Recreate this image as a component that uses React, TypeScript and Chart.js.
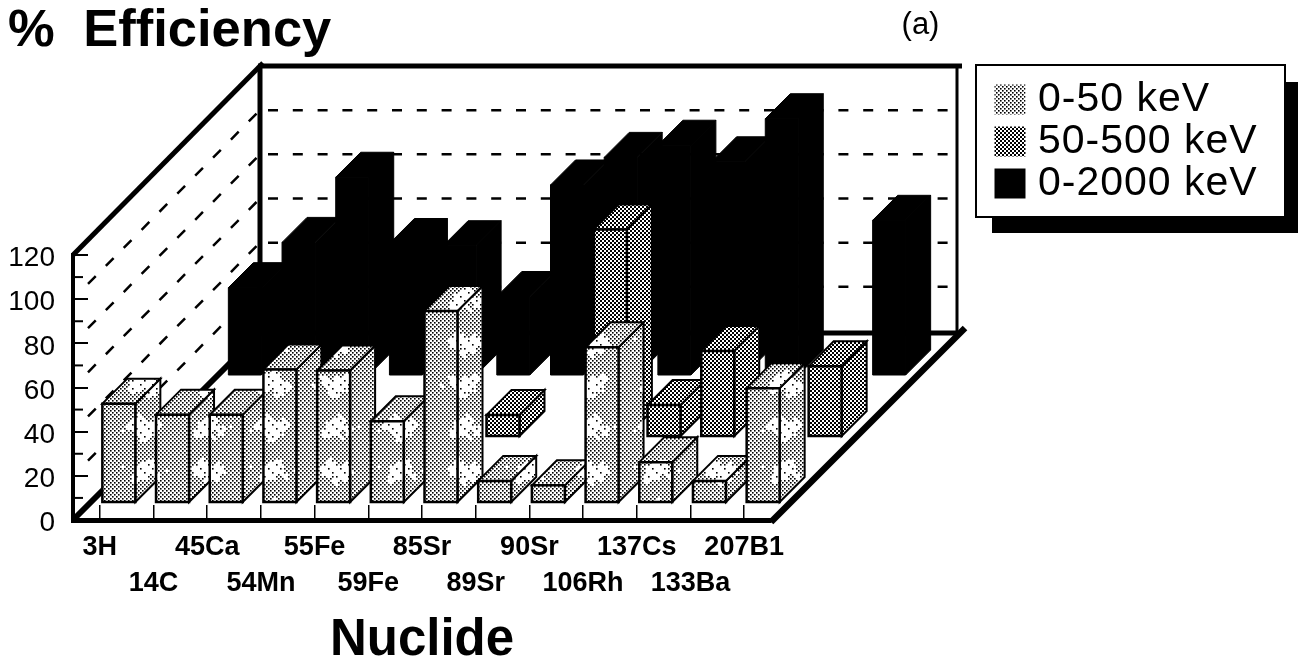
import React, { useEffect, useRef } from "react";
import { Chart, registerables } from "chart.js";

Chart.register(...registerables);

const nuclides = ["3H", "14C", "45Ca", "54Mn", "55Fe", "59Fe", "85Sr", "89Sr", "90Sr", "106Rh", "137Cs", "133Ba", "207B1"];
const lowEnergy = [45, 40, 40, 60.5, 60, 37, 87, 10, 8, 70.5, 18.5, 10, 52];
const midEnergy = [null, null, null, null, null, null, 10, null, 94, 14.5, 39, null, 32];
const fullEnergy = [40, 60.5, 90, 60, 59, 36, 86.5, 99, 104.5, 97, 116.5, null, 70.5];
const seriesNames = ["0-50 keV", "50-500 keV", "0-2000 keV"];
const yTicks = [0, 20, 40, 60, 80, 100, 120];

const FONT = "'Liberation Sans', Arial, sans-serif";
const layerOffsets = [
  { dx: 19, dy: -17 },
  { dx: 81, dy: -83 },
  { dx: 145, dy: -144 },
];
const BOX_DEPTH = 25;
const WALL_DX = 187;
const WALL_DY = -189;

function makePattern(ctx: CanvasRenderingContext2D, dot: number, blotchy: boolean) {
  const size = 128;
  const c = document.createElement("canvas");
  c.width = size;
  c.height = size;
  const g = c.getContext("2d")!;
  g.fillStyle = "#fff";
  g.fillRect(0, 0, size, size);
  g.fillStyle = "#000";
  for (let y = 0; y < size; y += 2) {
    for (let x = y % 4 === 0 ? 0 : 2; x < size; x += 4) {
      if (blotchy) {
        const a = (x / size) * Math.PI * 2;
        const b = (y / size) * Math.PI * 2;
        const v = Math.sin(2 * a) + Math.cos(3 * b) + 0.5 * Math.sin(5 * a + 4 * b) + 0.3 * Math.cos(9 * a - 7 * b);
        if (v > 1 && (x + 2 * y) % 12 !== 0) continue;
      }
      g.fillRect(x, y, dot, dot);
    }
  }
  return ctx.createPattern(c, "repeat")!;
}

function polygon(ctx: CanvasRenderingContext2D, pts: number[][], fill: any, stroke: any, lw: number) {
  ctx.beginPath();
  pts.forEach((p, i) => (i ? ctx.lineTo(p[0], p[1]) : ctx.moveTo(p[0], p[1])));
  ctx.closePath();
  ctx.fillStyle = fill;
  ctx.fill();
  ctx.strokeStyle = stroke;
  ctx.lineWidth = lw;
  ctx.lineJoin = "miter";
  ctx.stroke();
}

function line(ctx: CanvasRenderingContext2D, x1: number, y1: number, x2: number, y2: number, lw: number, dash: number[] = []) {
  ctx.save();
  ctx.beginPath();
  ctx.moveTo(x1, y1);
  ctx.lineTo(x2, y2);
  ctx.lineWidth = lw;
  ctx.strokeStyle = "#000";
  ctx.lineCap = "butt";
  ctx.setLineDash(dash);
  ctx.stroke();
  ctx.restore();
}

const bars3d = {
  id: "bars3d",
  beforeDatasetsDraw(chart: any) {
    const { ctx, scales } = chart;
    const xs = scales.x;
    const ys = scales.y;
    const L = xs.left, R = xs.right, T = ys.top, B = ys.bottom;
    // dashed lines on the left wall and the back wall, one per inner y tick
    yTicks.slice(1, -1).forEach((v) => {
      const y = ys.getPixelForValue(v);
      line(ctx, L + 15, y - 15.2, L + WALL_DX, y + WALL_DY, 2.5, [11, 14.4]);
      line(ctx, L + WALL_DX + 8, y + WALL_DY, R + WALL_DX - 9, y + WALL_DY, 2.5, [10, 14.8]);
    });
    // short marks half way between the y ticks
    yTicks.slice(0, -1).forEach((v) => {
      const y = ys.getPixelForValue(v + 10);
      line(ctx, L, y, L + 10, y, 2);
    });
    // wall frame
    line(ctx, L, T, L + WALL_DX + 3, T + WALL_DY - 3, 5);
    line(ctx, L + WALL_DX, T + WALL_DY, L + WALL_DX, B + WALL_DY + 2, 5);
    line(ctx, L + WALL_DX - 2, T + WALL_DY, R + WALL_DX + 4, T + WALL_DY, 5);
    line(ctx, R + WALL_DX - 1, T + WALL_DY, R + WALL_DX - 1, B + WALL_DY + 2, 3);
    line(ctx, L + WALL_DX, B + WALL_DY + 2, R + WALL_DX, B + WALL_DY + 2, 5);
    // floor edges
    line(ctx, L, B, L + WALL_DX, B + WALL_DY + 2, 6);
    line(ctx, R, B + 2, R + WALL_DX + 7, B + WALL_DY - 3, 6.5);
  },
  beforeDatasetDraw(chart: any, args: any) {
    const { ctx } = chart;
    const i = args.index;
    const ds = chart.data.datasets[i];
    const o = layerOffsets[i];
    const fill = ds.backgroundColor;
    const edge = "#000";
    const lw = i === 2 ? 1 : 2;
    args.meta.data.forEach((bar: any, j: number) => {
      if (ds.data[j] == null) return;
      const hw = 16.5;
      const x0 = bar.x + o.dx - hw;
      const x1 = bar.x + o.dx + hw;
      const yt = bar.y + o.dy;
      const yb = bar.base + o.dy;
      const d = BOX_DEPTH;
      polygon(ctx, [[x1, yt], [x1 + d, yt - d], [x1 + d, yb - d], [x1, yb]], fill, edge, lw);
      polygon(ctx, [[x0, yt], [x0 + d, yt - d], [x1 + d, yt - d], [x1, yt]], fill, edge, lw);
      polygon(ctx, [[x0, yt], [x1, yt], [x1, yb], [x0, yb]], fill, edge, i === 2 ? 1 : 2.5);
    });
    return false;
  },
};

const legendPlace = {
  id: "legendPlace",
  afterLayout(chart: any) {
    const lg = chart.legend;
    if (lg) {
      lg.left = 1001.5;
      lg.right = 1285;
      lg.top = 78;
      lg.bottom = 217;
      if (!lg._placed) {
        lg._placed = true;
        lg.draw = function () {
          const c = this.ctx;
          c.save();
          c.letterSpacing = "1px";
          this._draw();
          c.restore();
        };
      }
    }
    const tb = chart.titleBlock;
    if (tb && !tb._spaced) {
      tb._spaced = true;
      const orig = tb.draw;
      tb.draw = function () {
        const c = this.ctx;
        c.save();
        c.wordSpacing = "14px";
        orig.call(this);
        c.restore();
      };
    }
  },
  beforeDraw(chart: any) {
    const { ctx } = chart;
    ctx.save();
    ctx.fillStyle = "#000";
    ctx.fillRect(992, 82, 306, 151);
    ctx.fillStyle = "#fff";
    ctx.fillRect(976, 65, 309, 152);
    ctx.strokeStyle = "#000";
    ctx.lineWidth = 2;
    ctx.strokeRect(976, 65, 309, 152);
    ctx.restore();
  },
  afterDraw(chart: any) {
    const { ctx } = chart;
    ctx.save();
    ctx.font = `31px ${FONT}`;
    ctx.fillStyle = "#000";
    ctx.textAlign = "center";
    ctx.textBaseline = "middle";
    ctx.fillText("(a)", 920.5, 25);
    ctx.restore();
  },
};

export default function App() {
  const ref = useRef<HTMLCanvasElement>(null);
  useEffect(() => {
    const canvas = ref.current!;
    const ctx = canvas.getContext("2d")!;
    const light = makePattern(ctx, 1.6, true);
    const mid = makePattern(ctx, 2, false);
    const chart = new Chart(canvas, {
      type: "bar",
      data: {
        labels: nuclides,
        datasets: [
          { label: seriesNames[0], data: lowEnergy, backgroundColor: light },
          { label: seriesNames[1], data: midEnergy, backgroundColor: mid },
          { label: seriesNames[2], data: fullEnergy, backgroundColor: "#000" },
        ] as any,
      },
      plugins: [bars3d, legendPlace],
      options: {
        animation: false,
        responsive: false,
        devicePixelRatio: 1,
        layout: { autoPadding: false, padding: { left: 8, right: 527, top: 0, bottom: 0 } },
        datasets: { bar: { grouped: false, barThickness: 33 } },
        plugins: {
          title: {
            display: true,
            text: "% Efficiency",
            align: "start",
            color: "#000",
            font: { family: FONT, size: 52.5, weight: "bold", lineHeight: 1.2 },
            padding: { top: 0, bottom: 192 },
          },
          legend: {
            display: true,
            position: "chartArea",
            align: "start",
            labels: {
              color: "#000",
              font: { family: FONT, size: 41 },
              boxWidth: 15,
              boxHeight: 14,
              padding: 1,
              generateLabels: (c: any) =>
                c.data.datasets.map((d: any, i: number) => ({
                  text: d.label,
                  fillStyle: d.backgroundColor,
                  strokeStyle: d.backgroundColor,
                  lineWidth: 16,
                  lineJoin: "miter",
                  datasetIndex: i,
                  hidden: false,
                })),
            },
          },
          tooltip: { enabled: false },
        },
        scales: {
          x: {
            type: "category",
            afterFit: (s: any) => { s.height = 142; },
            offset: true,
            border: { display: true, color: "#000", width: 5 },
            grid: { display: true, drawOnChartArea: false, offset: false, color: "#000", lineWidth: 1.5, tickLength: -15, tickColor: "#000" },
            ticks: {
              autoSkip: false,
              maxRotation: 0,
              minRotation: 0,
              color: "#000",
              padding: 25,
              font: { family: FONT, size: 27, weight: "bold", lineHeight: 36 / 27 },
              callback: function (this: any, _v: any, i: number) {
                return i % 2 ? ["", nuclides[i]] : [nuclides[i], ""];
              },
            },
            title: {
              display: true,
              text: "Nuclide",
              color: "#000",
              font: { family: FONT, size: 51, weight: "bold", lineHeight: 1 },
              padding: { top: 0, bottom: -4 },
            },
          },
          y: {
            type: "linear",
            min: 0,
            max: 120,
            afterFit: (s: any) => { s.width = 65; },
            border: { display: true, color: "#000", width: 4 },
            grid: { display: true, drawOnChartArea: false, color: "#000", lineWidth: 2, tickLength: -15, tickColor: "#000" },
            ticks: {
              stepSize: 20,
              color: "#000",
              padding: 33,
              labelOffset: 3.5,
              font: { family: FONT, size: 28 },
            },
          },
        },
      } as any,
    });
    return () => chart.destroy();
  }, []);
  return (
    <canvas
      ref={ref}
      width={1298}
      height={662}
      style={{ position: "fixed", left: 0, top: 0, display: "block", background: "#fff" }}
    />
  );
}
